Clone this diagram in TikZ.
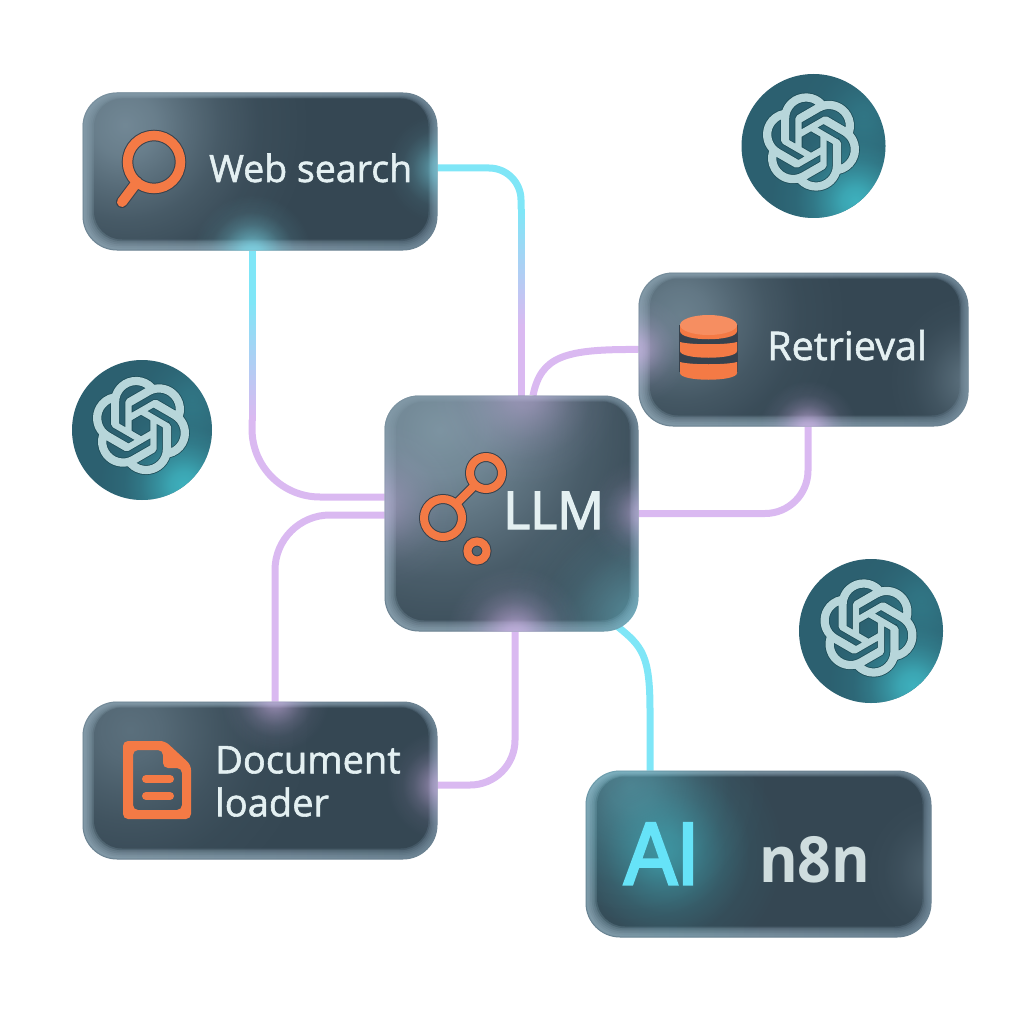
\documentclass[tikz,border=0pt]{standalone}
\usepackage{fontspec}
\setmainfont{Open Sans}
\newfontfamily\txtfont[FakeBold=1.5]{Open Sans}
\newfontfamily\llmfont[FakeBold=2.5]{Open Sans}
\newfontfamily\boldfont[BoldFont={Open Sans Bold}]{Open Sans}
\newfontfamily\aifont[FakeBold=3.5]{Liberation Sans}
\usetikzlibrary{fadings,svg.path,calc}
\definecolor{edgeL}{HTML}{8198A6}
\definecolor{edgeR}{HTML}{6A8191}
\definecolor{edgeLine}{HTML}{6B8291}
\definecolor{bodyC}{HTML}{354753}
\definecolor{cyanC}{HTML}{7FE6F7}
\definecolor{purpC}{HTML}{DAB9F1}
\definecolor{orangeC}{HTML}{F47A45}
\definecolor{orangeD}{HTML}{36424E}
\definecolor{textC}{HTML}{E4F0F2}
\definecolor{n8nC}{HTML}{CFDDDE}
\definecolor{aiC}{HTML}{66E3F8}
\definecolor{discC}{HTML}{2C6070}
\definecolor{discG}{HTML}{3FB5C2}
\definecolor{knotC}{HTML}{B7D6DA}
\definecolor{knotD}{HTML}{1E4D58}
\pgfdeclareradialshading{softshade}{\pgfpointorigin}{color(0bp)=(pgftransparent!0); color(4bp)=(pgftransparent!14); color(8bp)=(pgftransparent!42); color(12.5bp)=(pgftransparent!70); color(17.5bp)=(pgftransparent!90); color(25bp)=(pgftransparent!100); color(50bp)=(pgftransparent!100)}
\pgfdeclarefading{softglow}{\pgfuseshading{softshade}}
\pgfdeclarelayer{bg}
\pgfsetlayers{bg,main}
\tikzset{
  glass/.style={rectangle, rounded corners=34pt, inner sep=0pt, left color=edgeL, right color=edgeR, draw=edgeLine, line width=1pt},
  wire/.style={line width=7pt, line cap=butt},
  label/.style={inner sep=0pt, text=textC, font=\txtfont\fontsize{37.5}{43}\selectfont},
  disc/.style={circle, inner sep=0pt, minimum size=144pt, fill=discC},
  iconline/.style={draw=orangeC, line width=#1, line cap=round},
  knotlogo/.pic={
    \begin{scope}[xscale=3.97, yscale=-3.97, xshift=-12pt, yshift=-12pt]
      \path[preaction={draw=knotD, line width=3.6pt}, fill=knotC, draw=knotC, line width=2pt, line join=round] svg {M22.2819 9.8211a5.9847 5.9847 0 0 0-.5157-4.9108 6.0462 6.0462 0 0 0-6.5098-2.9A6.0651 6.0651 0 0 0 4.9807 4.1818a5.9847 5.9847 0 0 0-3.9977 2.9 6.0462 6.0462 0 0 0 .7427 7.0966 5.98 5.98 0 0 0 .511 4.9107 6.051 6.051 0 0 0 6.5146 2.9001A5.9847 5.9847 0 0 0 13.2599 24a6.0557 6.0557 0 0 0 5.7718-4.2058 5.9894 5.9894 0 0 0 3.9977-2.9001 6.0557 6.0557 0 0 0-.7475-7.0729z M13.2599 22.4292a4.4755 4.4755 0 0 1-2.8764-1.0408l.1419-.0804 4.7783-2.7582a.7948.7948 0 0 0 .3927-.6813v-6.7369l2.02 1.1686a.071.071 0 0 1 .038.052v5.5826a4.504 4.504 0 0 1-4.4945 4.4944z M3.5992 18.3038a4.4708 4.4708 0 0 1-.5346-3.0137l.142.0852 4.783 2.7582a.7712.7712 0 0 0 .7806 0l5.8428-3.3685v2.3324a.0804.0804 0 0 1-.0332.0615L9.74 19.9502a4.4992 4.4992 0 0 1-6.1408-1.6464z M2.3408 7.8956a4.485 4.485 0 0 1 2.3655-1.9728V11.6a.7664.7664 0 0 0 .3879.6765l5.8144 3.3543-2.0201 1.1685a.0757.0757 0 0 1-.071 0l-4.8303-2.7865A4.504 4.504 0 0 1 2.3408 7.872z M18.9371 11.7514L13.1038 8.364 15.1192 7.2a.0757.0757 0 0 1 .071 0l4.8303 2.7913a4.4944 4.4944 0 0 1-.6765 8.1042v-5.6772a.79.79 0 0 0-.407-.667z M20.9478 8.7283l-.142-.0852-4.7735-2.7818a.7759.7759 0 0 0-.7854 0L9.409 9.2297V6.8974a.0662.0662 0 0 1 .0284-.0615l4.8303-2.7866a4.4992 4.4992 0 0 1 6.6802 4.66z M8.3065 12.863l-2.02-1.1638a.0804.0804 0 0 1-.038-.0567V6.0742a4.4992 4.4992 0 0 1 7.3757-3.4537l-.142.0805L8.704 5.459a.7948.7948 0 0 0-.3927.6813z M9.4041 10.4976l2.602-1.4998 2.6069 1.4998v2.9994l-2.5974 1.4997-2.6067-1.4997Z};
    \end{scope}
  }
}
% soft inner body of a glass box
\newcommand{\glassbody}[1]{%
  \foreach \k/\op in {0/.08,1/.1,2/.15,3/.2,4/.45,5/1}{%
    \fill[bodyC, opacity=\op, rounded corners={33-1.0*\k*1pt}]
      ($(#1.north west)+({3+1.7*\k},{2+0.8*\k})$) rectangle ($(#1.south east)+({-2-1.4*\k},{-3-1.6*\k})$);
  }%
}
% a soft light inside a box
\newcommand{\lightin}[5]{%
  \begin{scope}
    \clip[rounded corners=34pt] (#1.north west) rectangle (#1.south east);
    \fill[#4, opacity=#5, path fading=softglow] #2 circle[radius=#3pt];
  \end{scope}%
}
\begin{document}
\begin{tikzpicture}[x=1pt,y=-1pt]
\useasboundingbox (0,0) rectangle (1024,1024);

% discs
\node[disc] (d1) at (813.5,146) {};
\node[disc, minimum size=140pt] (d2) at (142,430) {};
\node[disc] (d3) at (871,631) {};
\foreach \n/\r in {d1/72,d2/70,d3/72}{
  \begin{scope}
    \clip (\n.center) circle[radius=\r pt];
    \fill[discG, opacity=.95, path fading=softglow] ($(\n.center)+(42,55)$) circle[radius=85pt];
    \fill[discG, opacity=.25, path fading=softglow] ($(\n.center)+(50,-30)$) circle[radius=70pt];
  \end{scope}
}
\pic at ($(d1.center)+(-2.5,-4)$) {knotlogo};
\pic at ($(d2.center)+(-1,-4.5)$) {knotlogo};
\pic at ($(d3.center)+(-2.5,-3)$) {knotlogo};

% boxes
\node[glass, minimum width=354pt, minimum height=157pt] (web) at (260,171.5) {};
\node[glass, minimum width=329pt, minimum height=153pt] (ret) at (803.5,349.5) {};
\node[glass, minimum width=253pt, minimum height=235pt] (llm) at (511.5,513.5) {};
\node[glass, minimum width=354pt, minimum height=157pt] (doc) at (260,780.5) {};
\node[glass, minimum width=345pt, minimum height=166pt] (ai) at (758.5,854) {};
\glassbody{web}\glassbody{ret}\glassbody{llm}\glassbody{doc}\glassbody{ai}

% lights
\lightin{web}{(125,125)}{190}{edgeL}{.8}
\lightin{web}{(252,254)}{60}{cyanC}{.75}
\lightin{web}{(440,168)}{55}{cyanC}{.55}
\lightin{ret}{(680,315)}{170}{edgeL}{.7}
\lightin{ret}{(636,349)}{55}{purpC}{.6}
\lightin{ret}{(808,430)}{50}{purpC}{.75}
\lightin{ret}{(975,380)}{90}{edgeL}{.55}
\lightin{llm}{(440,430)}{290}{edgeL}{.95}
\lightin{llm}{(525,392)}{95}{purpC}{.45}
\lightin{llm}{(380,505)}{85}{purpC}{.4}
\lightin{llm}{(642,513)}{55}{purpC}{.55}
\lightin{llm}{(515,636)}{70}{purpC}{.75}
\lightin{llm}{(640,620)}{140}{cyanC}{.4}
\lightin{doc}{(130,730)}{190}{edgeL}{.5}
\lightin{doc}{(275,698)}{55}{purpC}{.6}
\lightin{doc}{(441,785)}{55}{purpC}{.6}
\lightin{ai}{(630,785)}{140}{cyanC}{.35}
\lightin{ai}{(665,852)}{120}{discG}{.65}
\lightin{ai}{(940,870)}{80}{edgeL}{.35}

% connectors, under the boxes
\begin{pgfonlayer}{bg}
  \coordinate (c1a) at ($(llm.north)+(9.5,-186)$);
  \draw[wire, cyanC, rounded corners=32pt] ([yshift=3.5pt]web.east) -| (c1a);
  \foreach \i in {0,...,23}{
    \pgfmathsetmacro{\mixv}{\i*100/23}
    \draw[wire, color=purpC!\mixv!cyanC] ($(c1a)+(0,\i*5-.5)$) -- ++(0,5.8);
  }
  \draw[wire, color=purpC] ($(c1a)+(0,119)$) -- ($(llm.north)+(9.5,0)$);

  \coordinate (c2a) at ($(web.south)+(-8,50)$);
  \draw[wire, cyanC] ($(web.south)+(-8,0)$) -- (c2a);
  \foreach \i in {0,...,23}{
    \pgfmathsetmacro{\mixv}{\i*100/23}
    \draw[wire, color=purpC!\mixv!cyanC] ($(c2a)+(0,\i*5-.5)$) -- ++(0,5.8);
  }
  \draw[wire, purpC, rounded corners=68pt] ($(c2a)+(0,119)$) |- ([yshift=16.5pt]llm.west);

  \draw[wire, purpC] (ret.west) .. controls (565,349) and (541,356) .. ([xshift=21.5pt]llm.north);
  \draw[wire, purpC, rounded corners=43pt] ([xshift=4.5pt]ret.south) |- (llm.east);
  \draw[wire, purpC, rounded corners=55pt] ([yshift=-1.5pt]llm.west) -| ([xshift=15pt]doc.north);
  \draw[wire, purpC, rounded corners=45pt] ([xshift=3.5pt]llm.south) |- ([yshift=-4.5pt]doc.east);
  \draw[wire, cyanC] ([shift={(-21pt,5pt)}]llm.south east) .. controls +(25pt,-20pt) and +(-0pt,55pt) .. ([xshift=-108.5pt,yshift=60pt]ai.north) -- ([xshift=-108.5pt]ai.north);
\end{pgfonlayer}

% search icon
\draw[orangeD, line width=12pt, line cap=round] (122,202) -- (137,182);
\draw[orangeD, line width=11.5pt] (154,162) circle[radius=26.5pt];
\draw[iconline=9.5pt] (154,162) circle[radius=26.5pt];
\draw[iconline=10pt] (122,202) -- (137,182);

% database icon
\fill[orangeD] (679,325) rectangle (738,372);
\foreach \a/\b in {342/351,362/373}{
  \fill[orangeC] (680,\a) .. controls (690,\a+3) and (727,\a+3) .. (737,\a) -- (737,\b) .. controls (737,\b+9) and (680,\b+9) .. (680,\b) -- cycle;
}
\fill[orangeC] (680,325) -- (680,331) .. controls (680,342) and (737,342) .. (737,331) -- (737,325) -- cycle;
\fill[orangeC!85!white] (708.5,325) ellipse[x radius=28.5pt, y radius=10pt];

% llm icon
\foreach \c/\w in {orangeD/10,orangeC/8}{
  \draw[\c, line width=\w pt] (443,518) circle[radius=19pt];
  \draw[\c, line width=\w pt] (486,473) circle[radius=16pt];
  \draw[\c, line width=\w pt] (477,551) circle[radius=9.5pt];
  \draw[\c, line width=\w pt] (457,503) -- (475,485);
}

% document icon
\fill[orangeC, even odd rule, rounded corners=5pt]
  (123,741) -- (165,741) -- (191,765) -- (191,819) -- (123,819) -- cycle
  (133,750) -- (163,750) -- (163,768) -- (182,768) -- (182,810) -- (133,810) -- cycle;
\draw[iconline=8pt] (146,779) -- (170,779);
\draw[iconline=8pt] (146,796) -- (170,796);

% labels
\node[label, anchor=base west] (t1) at (209,182) {Web search};
\node[label, anchor=base west, font=\txtfont\fontsize{39.5}{43}\selectfont] (t2) at (767,360) {Retrieval};
\node[label, anchor=base west, font=\llmfont\fontsize{52}{60}\selectfont] (t3) at (503,529) {LLM};
\node[label, anchor=north west, align=left, font=\txtfont\fontsize{38}{43}\selectfont] (t4) at (215,746) {Document\\loader};
\node[label, anchor=base west, text=aiC, font=\aifont\fontsize{88}{90}\selectfont] (t5) at (624,884) {\scalebox{.9}[1]{AI}};
\node[label, anchor=base west, text=n8nC, font=\boldfont\bfseries\fontsize{59}{60}\selectfont] (t6) at (759,882) {\scalebox{1}[1.08]{n8n}};
\end{tikzpicture}
\end{document}
